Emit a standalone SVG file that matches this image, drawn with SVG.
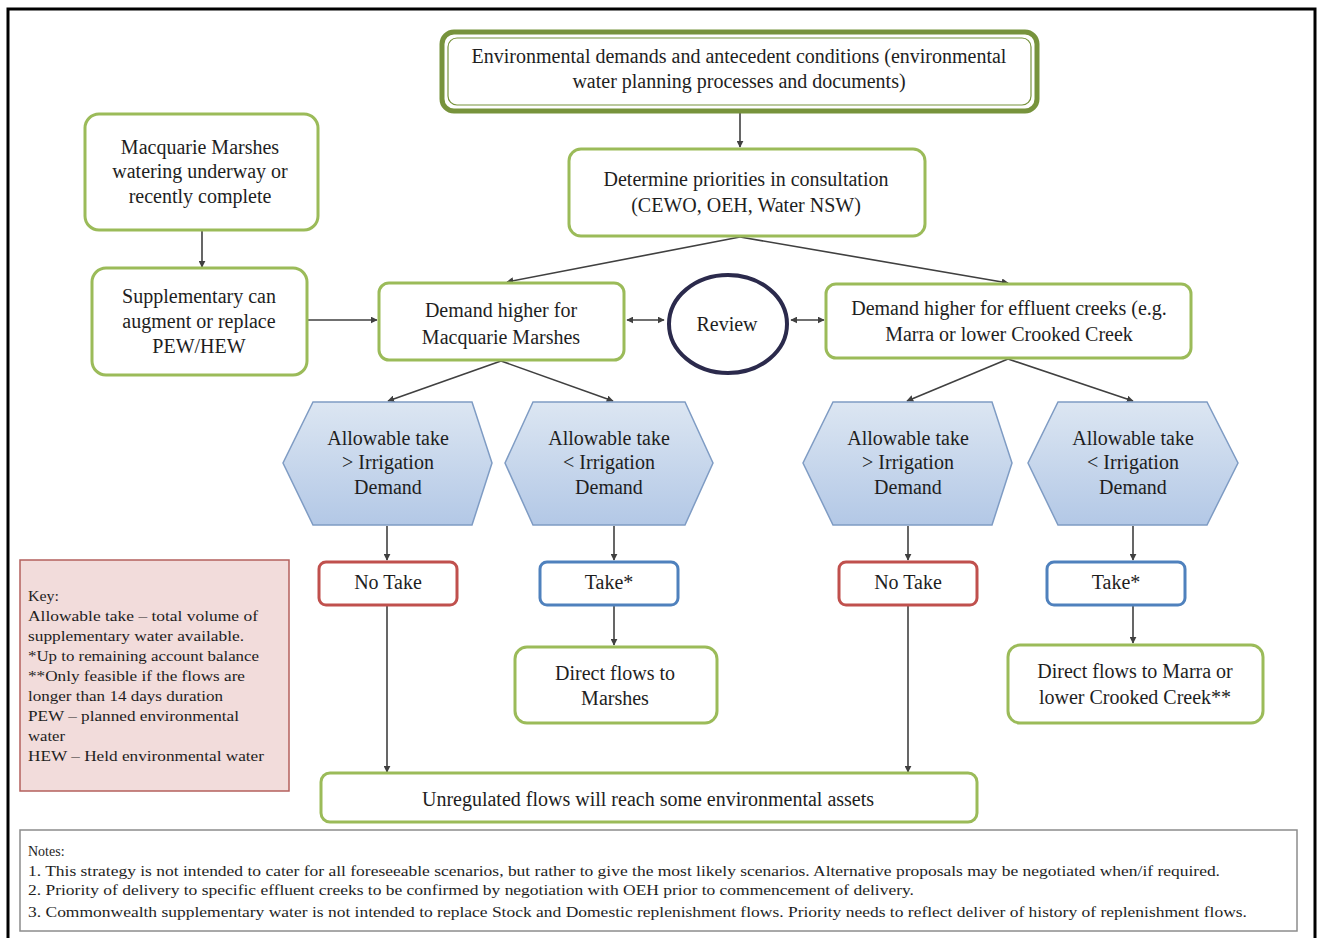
<svg xmlns="http://www.w3.org/2000/svg" width="1317" height="938" viewBox="0 0 1317 938">
<style>
text{font-family:"Liberation Serif","Times New Roman",serif;fill:#1e1e1e;}
.n{font-size:20px;text-anchor:middle;}
.g{fill:#fff;stroke:#9bbb59;stroke-width:3;}
.hex{fill:url(#hg);stroke:#7f9cc4;stroke-width:1.5;}
.red{fill:#fff;stroke:#c0504d;stroke-width:3;}
.blue{fill:#fff;stroke:#4f81bd;stroke-width:3;}
.c{fill:none;stroke:#404040;stroke-width:1.6;marker-end:url(#ah);}
.d{marker-start:url(#ah);}
.k{font-size:15px;}
.nt{font-size:14px;}
</style>
<defs>
<marker id="ah" viewBox="0 0 10 10" refX="9" refY="5" markerWidth="7" markerHeight="7" orient="auto-start-reverse" markerUnits="userSpaceOnUse">
<path d="M0,0 L10,5 L0,10 z" fill="#404040"/>
</marker>
<linearGradient id="hg" x1="0" y1="0" x2="0" y2="1">
<stop offset="0" stop-color="#dce6f2"/>
<stop offset="1" stop-color="#b3c8e6"/>
</linearGradient>
</defs>
<rect width="1317" height="938" fill="#fff"/>
<path d="M8,938 V9 H1315 V938" fill="none" stroke="#000" stroke-width="3"/>

<g id="connectors">
<path class="c" d="M740,112 V147"/>
<path class="c" d="M202,230 V267"/>
<path class="c" d="M307,320 H377"/>
<path class="c" d="M740,237 L507,282"/>
<path class="c" d="M740,237 L1008,283"/>
<path class="c d" d="M627,320 H664"/>
<path class="c d" d="M791,320 H824"/>
<path class="c" d="M501,361 L388,401"/>
<path class="c" d="M501,361 L613,401"/>
<path class="c" d="M1008,359 L907,401"/>
<path class="c" d="M1008,359 L1133,401"/>
<path class="c" d="M387,526 V560"/>
<path class="c" d="M614,526 V560"/>
<path class="c" d="M908,526 V560"/>
<path class="c" d="M1133,526 V560"/>
<path class="c" d="M614,606 V645"/>
<path class="c" d="M1133,606 V643"/>
<path class="c" d="M387,606 V772"/>
<path class="c" d="M908,606 V772"/>
</g>

<g id="top">
<rect x="442" y="32" width="595" height="79" rx="12" fill="#fff" stroke="#77933c" stroke-width="5"/>
<rect x="448" y="38" width="583" height="67" rx="9" fill="none" stroke="#77933c" stroke-width="1.2"/>
<text class="n" x="739" y="63">Environmental demands and antecedent conditions (environmental</text>
<text class="n" x="739" y="88">water planning processes and documents)</text>
</g>

<g id="determine">
<rect class="g" x="569" y="149" width="356" height="87" rx="12"/>
<text class="n" x="746" y="186">Determine priorities in consultation</text>
<text class="n" x="746" y="212">(CEWO, OEH, Water NSW)</text>
</g>

<g id="marshes-watering">
<rect class="g" x="85" y="114" width="233" height="116" rx="14"/>
<text class="n" x="200" y="154">Macquarie Marshes</text>
<text class="n" x="200" y="178">watering underway or</text>
<text class="n" x="200" y="203">recently complete</text>
</g>

<g id="supplementary">
<rect class="g" x="92" y="268" width="215" height="107" rx="14"/>
<text class="n" x="199" y="303">Supplementary can</text>
<text class="n" x="199" y="328">augment or replace</text>
<text class="n" x="199" y="353">PEW/HEW</text>
</g>

<g id="demand-marshes">
<rect class="g" x="379" y="283" width="245" height="77" rx="10"/>
<text class="n" x="501" y="317">Demand higher for</text>
<text class="n" x="501" y="344">Macquarie Marshes</text>
</g>

<g id="review">
<ellipse cx="728" cy="324" rx="59" ry="49" fill="#fff" stroke="#2b2a4c" stroke-width="4"/>
<text class="n" x="727" y="331">Review</text>
</g>

<g id="demand-creeks">
<rect class="g" x="826" y="284" width="365" height="74" rx="10"/>
<text class="n" x="1009" y="315">Demand higher for effluent creeks (e.g.</text>
<text class="n" x="1009" y="341">Marra or lower Crooked Creek</text>
</g>

<g id="hex1">
<polygon class="hex" points="313,402 472,402 492,463 472,525 313,525 283,463"/>
<text class="n" x="388" y="445">Allowable take</text>
<text class="n" x="388" y="469">&gt; Irrigation</text>
<text class="n" x="388" y="494">Demand</text>
</g>
<g id="hex2">
<polygon class="hex" points="533,402 685,402 713,463 685,525 533,525 505,463"/>
<text class="n" x="609" y="445">Allowable take</text>
<text class="n" x="609" y="469">&lt; Irrigation</text>
<text class="n" x="609" y="494">Demand</text>
</g>
<g id="hex3">
<polygon class="hex" points="833,402 992,402 1012,463 992,525 833,525 803,463"/>
<text class="n" x="908" y="445">Allowable take</text>
<text class="n" x="908" y="469">&gt; Irrigation</text>
<text class="n" x="908" y="494">Demand</text>
</g>
<g id="hex4">
<polygon class="hex" points="1058,402 1207,402 1238,463 1207,525 1058,525 1028,463"/>
<text class="n" x="1133" y="445">Allowable take</text>
<text class="n" x="1133" y="469">&lt; Irrigation</text>
<text class="n" x="1133" y="494">Demand</text>
</g>

<g id="notake1">
<rect class="red" x="319" y="562" width="138" height="43" rx="7"/>
<text class="n" x="388" y="589">No Take</text>
</g>
<g id="take1">
<rect class="blue" x="540" y="562" width="138" height="43" rx="7"/>
<text class="n" x="609" y="589">Take*</text>
</g>
<g id="notake2">
<rect class="red" x="839" y="562" width="138" height="43" rx="7"/>
<text class="n" x="908" y="589">No Take</text>
</g>
<g id="take2">
<rect class="blue" x="1047" y="562" width="138" height="43" rx="7"/>
<text class="n" x="1116" y="589">Take*</text>
</g>

<g id="direct-marshes">
<rect class="g" x="515" y="647" width="202" height="76" rx="12"/>
<text class="n" x="615" y="680">Direct flows to</text>
<text class="n" x="615" y="705">Marshes</text>
</g>
<g id="direct-marra">
<rect class="g" x="1008" y="645" width="255" height="78" rx="12"/>
<text class="n" x="1135" y="678">Direct flows to Marra or</text>
<text class="n" x="1135" y="704">lower Crooked Creek**</text>
</g>

<g id="unregulated">
<rect class="g" x="321" y="773" width="656" height="49" rx="9"/>
<text class="n" x="648" y="806">Unregulated flows will reach some environmental assets</text>
</g>

<g id="key">
<rect x="20" y="560" width="269" height="231" fill="#f2dcdb" stroke="#b4605d" stroke-width="1.5"/>
<text class="k" x="28" y="601" textLength="31" lengthAdjust="spacingAndGlyphs">Key:</text>
<text class="k" x="28" y="621" textLength="230" lengthAdjust="spacingAndGlyphs">Allowable take – total volume of</text>
<text class="k" x="28" y="641" textLength="216" lengthAdjust="spacingAndGlyphs">supplementary water  available.</text>
<text class="k" x="28" y="661" textLength="231" lengthAdjust="spacingAndGlyphs">*Up to remaining account  balance</text>
<text class="k" x="28" y="681" textLength="217" lengthAdjust="spacingAndGlyphs">**Only feasible  if the flows are</text>
<text class="k" x="28" y="701" textLength="195" lengthAdjust="spacingAndGlyphs">longer than 14 days duration</text>
<text class="k" x="28" y="721" textLength="211" lengthAdjust="spacingAndGlyphs">PEW – planned environmental</text>
<text class="k" x="28" y="741" textLength="37" lengthAdjust="spacingAndGlyphs">water</text>
<text class="k" x="28" y="761" textLength="236" lengthAdjust="spacingAndGlyphs">HEW – Held  environmental  water</text>
</g>

<g id="notes">
<rect x="20" y="830" width="1277" height="101" fill="#fff" stroke="#8c8c8c" stroke-width="1.5"/>
<text class="nt" x="28" y="856">Notes:</text>
<text class="nt" x="28" y="876" textLength="1192" lengthAdjust="spacingAndGlyphs">1. This strategy  is not intended to cater  for all foreseeable  scenarios,  but rather to give the most likely scenarios.  Alternative proposals may be negotiated  when/if required.</text>
<text class="nt" x="28" y="895" textLength="886" lengthAdjust="spacingAndGlyphs">2. Priority of delivery  to specific effluent  creeks  to be confirmed by negotiation with OEH prior to commencement  of delivery.</text>
<text class="nt" x="28" y="917" textLength="1219" lengthAdjust="spacingAndGlyphs">3. Commonwealth supplementary water is not intended to replace  Stock and Domestic replenishment  flows. Priority needs  to reflect deliver of history of replenishment  flows.</text>
</g>
</svg>
